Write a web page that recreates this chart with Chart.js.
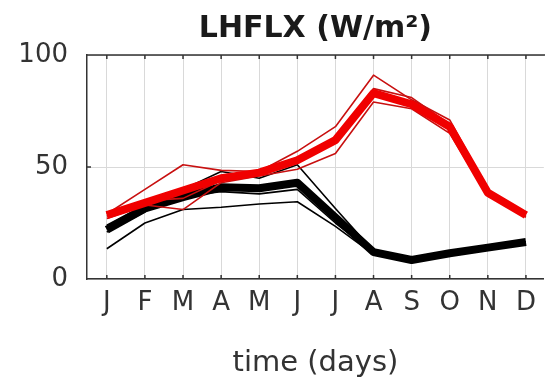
<!DOCTYPE html>
<html>
<head>
<meta charset="utf-8">
<script src="https://cdn.jsdelivr.net/npm/chart.js@4"></script>
<style>
  body { margin: 0; background: #fff; }
  #wrap { width: 545px; height: 381px; }
</style>
</head>
<body>
<div id="wrap"><canvas id="lhflx" width="545" height="381"></canvas></div>
<script>
// month ticks (mid-month positions 0..11)
const months = ["J", "F", "M", "A", "M", "J", "J", "A", "S", "O", "N", "D"];

// ensemble means
const blackMean = [22, 31.5, 36.5, 41, 40.5, 43, 27.5, 12, 8.5, 11.5, 14, 16.5];
const redMean = [28.5, 34, 39.5, 45, 47.5, 53, 62, 83, 78, 68, 38.5, 28.5];

// individual members
const blackRuns = [
  [13.5, 25, 31, 32, 33.5, 34.5, 23.5, 11, 8, 11, 14, 16.5],
  [21, 30, 40, 48, 45, 51, 31.5, 12.5, 8.5, 11.5, 14, 16.5],
  [24, 33, 37, 39, 38, 40, 25, 11.5, 8.5, 11.5, 14, 16.5],
];
const redRuns = [
  [29, 40, 51, 48.5, 48, 57, 68, 91, 80, 71, 40, 27.5],
  [27, 33, 31, 43, 46, 49, 56, 79, 76, 65, 37, 28.5],
  [28, 35, 36, 44, 47, 52, 63, 85, 81, 69, 39, 28],
];

const font = "DejaVu Sans";
const toPoints = (vals) => vals.map((v, i) => ({ x: i, y: v }));

function line(vals, color, width) {
  return {
    data: toPoints(vals),
    borderColor: color,
    borderWidth: width,
    pointRadius: 0,
    tension: 0,
    fill: false,
    borderJoinStyle: "round",
  };
}

// first dataset ends up on top
const datasets = [
  line(redMean, "#f00000", 8),
  ...redRuns.map((r) => line(r, "#c81010", 1.6)),
  ...blackRuns.map((r) => line(r, "#000", 1.6)),
  line(blackMean, "#000", 8),
];

// top edge of the box and the inward tick marks
const frame = {
  id: "frame",
  afterDraw(chart) {
    const { ctx, chartArea: a, scales } = chart;
    ctx.save();
    ctx.strokeStyle = "#333";
    ctx.lineWidth = 1.5;
    ctx.beginPath();
    ctx.moveTo(a.left, a.top);
    ctx.lineTo(a.right + 2, a.top);
    months.forEach((m, i) => {
      const px = scales.x.getPixelForValue(i);
      ctx.moveTo(px, a.top);
      ctx.lineTo(px, a.top + 4);
      ctx.moveTo(px, a.bottom);
      ctx.lineTo(px, a.bottom - 4);
    });
    const py = scales.y.getPixelForValue(50);
    ctx.moveTo(a.left, py);
    ctx.lineTo(a.left + 4, py);
    ctx.stroke();
    ctx.restore();
  },
};

new Chart(document.getElementById("lhflx"), {
  type: "line",
  data: { datasets },
  plugins: [frame],
  options: {
    responsive: false,
    animation: false,
    layout: { padding: 0 },
    plugins: {
      legend: { display: false },
      tooltip: { enabled: false },
      title: {
        display: true,
        text: "LHFLX (W/m²)",
        fullSize: false,
        color: "#1a1a1a",
        font: { family: font, size: 30, weight: "bold", lineHeight: 1.2 },
        padding: { top: 11, bottom: 8 },
      },
    },
    scales: {
      x: {
        type: "linear",
        min: -0.52,
        max: 11.47,
        afterBuildTicks: (scale) => {
          scale.ticks = months.map((m, i) => ({ value: i }));
        },
        afterFit: (scale) => {
          scale.height = 102;
        },
        ticks: {
          callback: (v) => months[v],
          color: "#333",
          padding: 9,
          maxRotation: 0,
          autoSkip: false,
          font: { family: font, size: 26 },
        },
        grid: { color: "#d9d9d9", drawTicks: false },
        border: { color: "#333", width: 1.5 },
        title: {
          display: true,
          text: "time (days)",
          color: "#333",
          padding: { top: 0, bottom: 0 },
          font: { family: font, size: 29 },
        },
      },
      y: {
        min: 0,
        max: 100,
        afterFit: (scale) => {
          scale.width = 87;
        },
        ticks: {
          stepSize: 50,
          color: "#333",
          padding: 19,
          font: { family: font, size: 26 },
        },
        grid: { color: "#d9d9d9", drawTicks: false },
        border: { color: "#333", width: 1.5 },
      },
    },
  },
});
</script>
</body>
</html>
